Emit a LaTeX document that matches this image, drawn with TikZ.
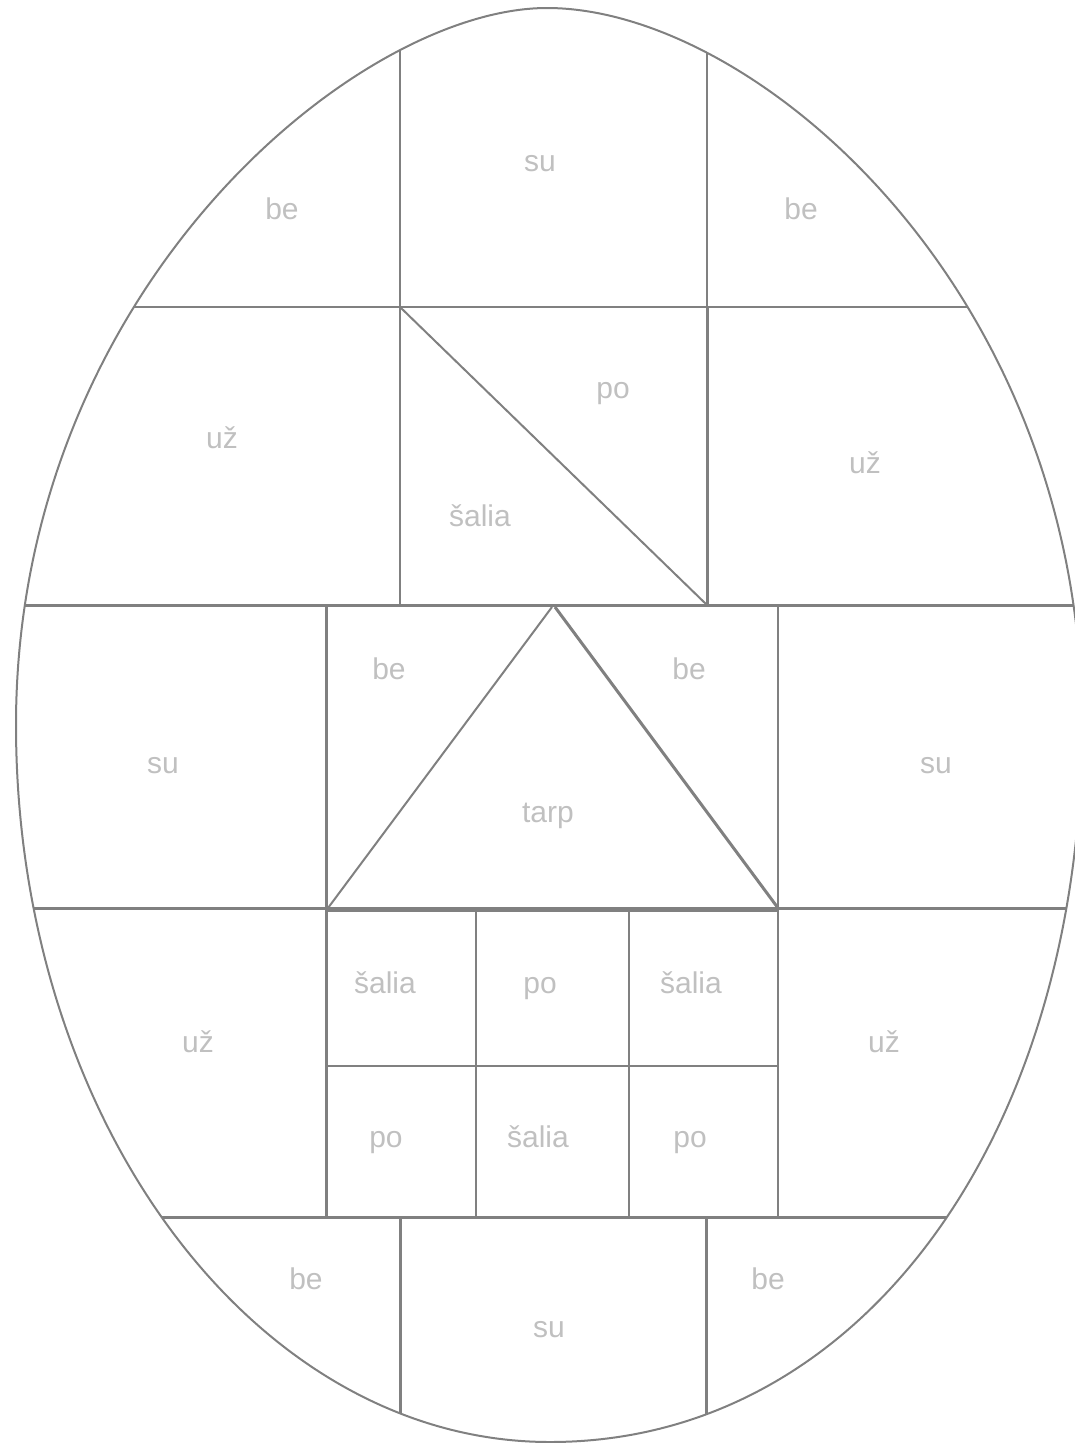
\documentclass[tikz,border=0pt]{standalone}
\usepackage{fontspec}
\setmainfont{Liberation Sans}
\definecolor{ln}{RGB}{128,128,128}
\definecolor{lb}{RGB}{192,192,192}
\begin{document}
\begin{tikzpicture}[x=1pt,y=-1pt,
  edge/.style={draw=ln,line width=2pt},
  heavy/.style={draw=ln,line width=3pt},
  lab/.style={text=lb,font=\fontsize{30}{36}\selectfont,anchor=base,inner sep=0pt}]
\useasboundingbox (0,0) rectangle (1075,1443);
\clip (0,0) rectangle (1075,1443);
\path[save path=\egg] (16,725)
  .. controls (16,290) and (357,8) .. (547,8)
  .. controls (755,8) and (1082,290) .. (1082,725)
  .. controls (1082,1130) and (865,1442) .. (550,1442)
  .. controls (255,1442) and (16,1121) .. (16,725) -- cycle;
\begin{scope}
\clip[use path=\egg];
\draw[edge] (400,0) -- (400,307);
\draw[edge] (707,0) -- (707,307);
\draw[edge] (0,307) -- (1100,307);
\draw[heavy] (0,605) -- (1100,605);
\draw[heavy] (0,908) -- (1100,908);
\draw[heavy] (0,1217) -- (1100,1217);
\draw[heavy] (400,1217) -- (400,1443);
\draw[heavy] (706,1217) -- (706,1443);
\end{scope}
\draw[edge,use path=\egg];
\draw[edge] (400,307) -- (400,605);
\draw[heavy] (707,307) -- (707,605);
\draw[edge] (400,307) -- (707,605);
\draw[heavy] (326,605) -- (326,1217);
\draw[edge] (778,605) -- (778,1217);
\draw[edge] (328,908) -- (552,607);
\draw[heavy] (555,607) -- (778,908);
\draw[heavy] (326,910) -- (778,910);
\draw[edge] (476,910) -- (476,1217);
\draw[edge] (629,910) -- (629,1217);
\draw[edge] (326,1066) -- (778,1066);
\node[lab] (be1) at (282,219) {be};
\node[lab] (su1) at (540,171) {su};
\node[lab] (be2) at (801,219) {be};
\node[lab] (uz1) at (222,448) {už};
\node[lab] (po1) at (613,398) {po};
\node[lab] (sa1) at (480,526) {šalia};
\node[lab] (uz2) at (865,473) {už};
\node[lab] (su2) at (163,773) {su};
\node[lab] (be3) at (389,679) {be};
\node[lab] (be4) at (689,679) {be};
\node[lab] (tarp) at (548,822) {tarp};
\node[lab] (su3) at (936,773) {su};
\node[lab] (uz3) at (198,1052) {už};
\node[lab] (sa2) at (385,993) {šalia};
\node[lab] (po2) at (540,993) {po};
\node[lab] (sa3) at (691,993) {šalia};
\node[lab] (po3) at (386,1147) {po};
\node[lab] (sa4) at (538,1147) {šalia};
\node[lab] (po4) at (690,1147) {po};
\node[lab] (uz4) at (884,1052) {už};
\node[lab] (be5) at (306,1289) {be};
\node[lab] (su4) at (549,1337) {su};
\node[lab] (be6) at (768,1289) {be};
\end{tikzpicture}
\end{document}
